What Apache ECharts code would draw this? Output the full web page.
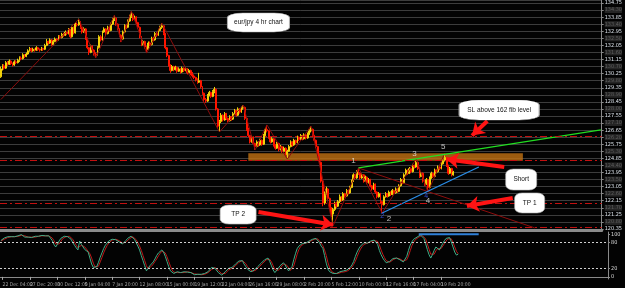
<!DOCTYPE html>
<html><head><meta charset="utf-8">
<script src="https://cdn.jsdelivr.net/npm/echarts@6/dist/echarts.min.js"></script>
<style>html,body{margin:0;padding:0;background:#000}#c{width:625px;height:288px}</style>
</head><body><div id="c"></div>
<script>
const tickLabels = ['22 Dec 04:00','27 Dec 20:00','30 Dec 12:00','5 Jan 04:00','7 Jan 20:00','12 Jan 08:00','15 Jan 00:00','19 Jan 12:00','22 Jan 04:00','26 Jan 16:00','29 Jan 08:00','2 Feb 20:00','5 Feb 12:00','10 Feb 00:00','12 Feb 16:00','17 Feb 04:00','19 Feb 20:00'];

const opens = [130.05,130.55,130.75,130.60,130.95,130.85,131.05,130.90,130.80,131.00,
130.95,131.10,131.25,131.20,131.45,131.35,131.50,131.70,131.85,131.70,
131.80,131.75,131.90,131.80,131.75,131.85,131.80,132.05,132.30,132.20,
132.40,132.10,132.30,132.45,132.40,132.60,132.55,132.75,132.70,132.90,
132.80,133.05,132.60,133.20,132.85,133.40,133.35,133.55,133.20,132.90,
133.10,132.50,131.90,131.60,132.00,131.75,131.50,131.45,131.90,132.60,
132.40,132.90,133.10,132.80,133.20,133.00,133.40,133.70,133.80,133.40,
133.10,132.70,132.45,132.90,133.30,133.20,133.60,133.90,134.05,133.70,
133.85,133.50,133.20,132.60,132.10,132.30,131.95,131.80,132.20,132.10,
132.50,132.40,132.80,132.70,133.00,133.20,133.30,132.80,131.90,131.40,
130.80,130.45,130.70,130.50,130.65,130.40,130.55,130.35,130.60,130.45,
130.55,130.30,130.45,130.25,130.10,130.00,129.85,129.70,129.80,129.40,
129.00,128.60,128.50,128.85,129.05,128.80,129.10,129.25,128.00,126.90,
127.20,127.60,127.30,127.70,127.40,127.25,127.50,127.35,127.70,127.90,
127.60,128.00,127.80,128.05,128.10,127.40,126.70,126.30,125.90,126.20,
125.80,125.60,125.90,125.70,126.00,125.75,126.30,126.70,126.60,126.20,
125.90,126.10,125.70,125.50,125.80,125.40,125.60,125.30,125.50,125.10,
125.30,125.60,125.90,125.70,126.00,125.85,126.20,126.05,126.30,126.10,
126.35,126.15,126.40,126.60,126.70,126.30,126.00,125.60,125.00,124.60,
123.40,122.00,122.60,122.90,122.30,121.70,121.30,121.60,122.00,121.80,
122.10,122.40,122.20,122.60,122.45,122.80,122.65,123.00,123.40,123.80,
123.60,124.00,123.90,123.60,123.80,123.40,123.65,123.30,123.50,123.10,
122.90,123.20,122.70,122.40,122.60,122.10,121.90,122.40,122.60,122.45,
122.70,122.55,122.80,122.65,122.90,122.75,123.10,123.50,123.30,123.80,
124.10,123.90,124.20,124.00,124.40,124.30,124.60,124.20,123.70,123.90,
123.40,123.20,123.50,123.00,123.60,123.90,123.70,124.10,124.00,124.30,
124.20,124.50,124.70,124.90,124.40,123.90,124.20,123.80];

const closes = [130.55,130.75,130.60,130.95,130.85,131.05,130.90,130.80,131.00,130.95,
131.10,131.25,131.20,131.45,131.35,131.50,131.70,131.85,131.70,131.80,
131.75,131.90,131.80,131.75,131.85,131.80,132.05,132.30,132.20,132.40,
132.10,132.30,132.45,132.40,132.60,132.55,132.75,132.70,132.90,132.80,
133.05,132.60,133.20,132.85,133.40,133.35,133.55,133.20,132.90,133.10,
132.50,131.90,131.60,132.00,131.75,131.50,131.45,131.90,132.60,132.40,
132.90,133.10,132.80,133.20,133.00,133.40,133.70,133.80,133.40,133.10,
132.70,132.45,132.90,133.30,133.20,133.60,133.90,134.05,133.70,133.85,
133.50,133.20,132.60,132.10,132.30,131.95,131.80,132.20,132.10,132.50,
132.40,132.80,132.70,133.00,133.20,133.30,132.80,131.90,131.40,130.80,
130.45,130.70,130.50,130.65,130.40,130.55,130.35,130.60,130.45,130.55,
130.30,130.45,130.25,130.10,130.00,129.85,129.70,129.80,129.40,129.00,
128.60,128.50,128.85,129.05,128.80,129.10,129.25,128.00,126.90,127.20,
127.60,127.30,127.70,127.40,127.25,127.50,127.35,127.70,127.90,127.60,
128.00,127.80,128.05,128.10,127.40,126.70,126.30,125.90,126.20,125.80,
125.60,125.90,125.70,126.00,125.75,126.30,126.70,126.60,126.20,125.90,
126.10,125.70,125.50,125.80,125.40,125.60,125.30,125.50,125.10,125.30,
125.60,125.90,125.70,126.00,125.85,126.20,126.05,126.30,126.10,126.35,
126.15,126.40,126.60,126.70,126.30,126.00,125.60,125.00,124.60,123.40,
122.00,122.60,122.90,122.30,121.70,121.30,121.60,122.00,121.80,122.10,
122.40,122.20,122.60,122.45,122.80,122.65,123.00,123.40,123.80,123.60,
124.00,123.90,123.60,123.80,123.40,123.65,123.30,123.50,123.10,122.90,
123.20,122.70,122.40,122.60,122.10,121.90,122.40,122.60,122.45,122.70,
122.55,122.80,122.65,122.90,122.75,123.10,123.50,123.30,123.80,124.10,
123.90,124.20,124.00,124.40,124.30,124.60,124.20,123.70,123.90,123.40,
123.20,123.50,123.00,123.60,123.90,123.70,124.10,124.00,124.30,124.20,
124.50,124.70,124.90,124.40,123.90,124.20,123.80,123.98];

const lows = [129.98,130.45,130.50,130.55,130.75,130.80,130.80,130.70,130.75,130.85,
130.90,131.00,131.10,131.15,131.25,131.30,131.45,131.65,131.60,131.65,
131.65,131.70,131.70,131.65,131.70,131.70,131.75,132.00,132.10,132.15,
132.00,132.05,132.25,132.30,132.35,132.45,132.50,132.60,132.65,132.70,
132.75,132.50,132.55,132.75,132.80,133.25,133.30,133.10,132.80,132.85,
132.40,131.80,131.44,131.55,131.65,131.40,131.25,131.40,131.85,132.30,
132.35,132.85,132.70,132.75,132.90,132.95,133.35,133.60,133.30,133.00,
132.60,132.26,132.40,132.85,133.10,133.15,133.55,133.80,133.60,133.65,
133.40,133.10,132.50,132.00,132.05,131.85,131.56,131.75,132.00,132.05,
132.30,132.35,132.60,132.65,132.95,133.10,132.70,131.80,131.30,130.70,
130.30,130.40,130.40,130.45,130.30,130.35,130.25,130.30,130.35,130.40,
130.20,130.25,130.15,130.00,129.90,129.75,129.60,129.65,129.30,128.90,
128.40,128.38,128.45,128.80,128.70,128.75,129.00,127.90,126.80,126.53,
127.10,127.20,127.25,127.30,127.15,127.20,127.25,127.30,127.65,127.50,
127.55,127.70,127.75,127.95,127.30,126.60,126.20,125.80,125.85,125.70,
125.39,125.55,125.60,125.65,125.65,125.70,126.25,126.50,126.10,125.80,
125.85,125.60,125.40,125.45,125.30,125.35,125.20,125.25,125.00,124.81,
125.25,125.55,125.60,125.65,125.75,125.80,125.95,126.00,126.00,126.05,
126.05,126.10,126.35,126.50,126.20,125.90,125.50,124.90,124.50,123.30,
121.80,121.90,122.50,122.20,121.60,121.10,120.55,121.50,121.70,121.75,
122.00,122.10,122.15,122.35,122.40,122.55,122.60,122.95,123.35,123.50,
123.55,123.80,123.50,123.55,123.30,123.35,123.20,123.25,123.00,122.80,
122.85,122.60,122.30,122.35,122.00,121.37,121.85,122.35,122.35,122.40,
122.45,122.50,122.55,122.60,122.65,122.70,123.05,123.20,123.25,123.75,
123.80,123.85,123.90,123.95,124.20,124.25,124.10,123.60,123.65,123.30,
123.10,123.15,122.71,122.95,123.55,123.60,123.65,123.90,123.95,124.10,
124.15,124.45,124.65,124.30,123.80,123.85,123.70,123.75];

const highs = [130.70,130.85,130.85,131.05,131.05,131.15,131.10,130.95,131.10,131.10,
131.20,131.35,131.35,131.55,131.50,131.60,131.80,131.95,131.90,131.90,
131.85,132.00,131.95,131.85,131.95,131.90,132.15,132.45,132.35,132.50,
132.45,132.40,132.55,132.50,132.70,132.70,132.85,132.85,133.00,132.95,
133.15,133.10,133.30,133.25,133.50,133.50,133.75,133.60,133.25,133.20,
133.15,132.55,131.95,132.10,132.05,131.80,131.60,132.00,132.70,132.70,
133.00,133.20,133.15,133.30,133.25,133.50,133.80,133.98,133.85,133.45,
133.15,132.75,133.00,133.40,133.40,133.70,134.00,134.24,134.10,133.95,
133.90,133.55,133.25,132.65,132.40,132.35,132.00,132.30,132.30,132.60,
132.60,132.90,132.90,133.10,133.30,133.47,133.35,132.85,131.95,131.45,
130.85,130.80,130.75,130.75,130.70,130.65,130.60,130.70,130.65,130.65,
130.60,130.55,130.50,130.35,130.20,130.05,129.95,130.30,129.85,129.45,
129.05,128.70,128.95,129.15,129.10,129.20,129.40,129.30,128.05,127.30,
127.74,127.65,127.80,127.75,127.45,127.60,127.55,127.80,128.00,127.95,
128.10,128.05,128.15,128.25,128.15,127.45,126.80,126.35,126.30,126.25,
125.85,126.00,125.95,126.10,126.05,126.40,126.80,126.98,126.65,126.25,
126.20,126.15,125.75,125.90,125.85,125.70,125.65,125.60,125.55,125.40,
125.70,126.00,125.95,126.10,126.05,126.30,126.25,126.40,126.35,126.45,
126.40,126.50,126.70,126.91,126.75,126.35,126.05,125.65,125.05,124.65,
123.45,122.75,123.05,122.95,122.35,121.75,121.70,122.10,122.10,122.20,
122.55,122.45,122.70,122.65,122.90,122.85,123.10,123.50,123.90,123.85,
124.10,124.24,123.95,123.90,123.85,123.75,123.70,123.60,123.55,123.15,
123.30,123.25,122.75,122.70,122.65,122.15,122.50,122.70,122.65,122.80,
122.75,122.90,122.85,123.00,122.95,123.20,123.60,123.55,123.90,124.20,
124.15,124.30,124.25,124.50,124.45,124.81,124.65,124.25,124.00,123.95,
123.45,123.60,123.55,123.70,124.00,123.95,124.20,124.15,124.40,124.35,
124.60,124.80,125.19,124.95,124.45,124.30,124.25,124.05];

const stochMain = [85,88,91,92,94,95,94,93,94,95,96,97,99,96,93,92,93,94,92,93,
95,96,95,96,97,95,96,97,96,93,85,76,70,76,84,90,92,95,96,94,
96,88,80,74,68,63,84,76,70,64,60,58,44,30,22,18,24,34,46,56,
66,74,78,84,86,88,88,87,85,82,79,77,80,85,90,93,95,94,88,80,
72,63,50,38,26,14,18,26,30,35,42,50,56,60,63,58,48,36,24,14,
10,8,10,12,8,10,9,12,14,11,8,10,7,5,8,6,4,6,5,8,
10,12,16,22,24,20,16,10,6,4,8,12,16,20,18,22,26,30,34,37,
40,38,30,24,18,14,12,12,16,20,24,28,32,36,40,44,44,36,26,16,
10,14,20,26,30,33,28,20,14,12,24,40,54,66,72,76,78,80,79,82,
84,86,88,90,90,86,80,72,67,50,32,18,12,10,8,6,8,10,12,10,
14,12,16,18,22,28,36,48,58,66,72,76,80,78,79,82,84,86,86,86,
76,62,52,44,38,33,33,36,40,43,44,44,42,40,37,35,36,48,62,74,
82,88,91,93,96,98,98,90,78,64,52,44,52,62,70,66,63,70,78,85,
90,93,92,82,70,58,51,53];

const stochSignal = [84,85,88,90,92,94,94,94,94,94,95,96,97,97,96,94,93,93,93,93,
93,95,95,96,96,96,96,96,96,95,91,85,77,74,77,83,89,92,94,95,
95,93,88,81,74,68,72,74,77,70,65,61,54,44,32,23,21,25,35,45,
56,65,73,79,83,86,87,88,87,85,82,79,79,81,85,89,93,94,92,87,
80,72,62,50,38,26,19,19,25,30,36,42,49,55,60,60,56,47,36,25,
16,11,9,10,10,10,9,10,12,12,11,10,8,7,7,6,6,5,5,6,
8,10,13,17,21,22,20,15,11,7,6,8,12,16,18,20,22,26,30,34,
37,38,36,31,24,19,15,13,13,16,20,24,28,32,36,40,43,41,35,26,
17,13,15,20,25,30,30,27,21,15,17,25,39,53,64,71,75,78,79,80,
82,84,86,88,89,89,85,79,73,63,50,33,21,13,10,8,7,8,10,11,
12,12,14,15,19,23,29,37,47,57,65,71,76,78,79,80,82,84,85,86,
83,75,63,53,45,38,35,34,36,40,42,44,43,42,40,37,36,40,49,61,
73,81,87,91,93,96,97,95,89,77,65,53,49,53,61,66,66,66,70,78,
84,89,92,89,81,70,60,54];

const levelPrices = [126.28, 124.75, 122.01, 120.48];
const zigzag = [[0,128.60],[46,133.73],[56,131.25],[67,133.98],[71,132.26],[77,134.24],[86,131.56],[95,133.47],[129,126.53],[143,128.25],[150,125.39],[157,126.98],[169,124.81],[183,126.91],[196,120.55],[211,124.24],[225,121.37],[245,124.81],[252,122.71],[262,125.19]];
const greenLine = [[211,124.24],[354,126.66]];
const blueLine = [[225,121.37],[282,124.30]];
const channelLine = [[211,124.24],[315,120.42]];
const currentPrice = 123.98;

const N = 355;
const cats = Array.from({length:N}, (_, i) => 'b' + i);
const labelAt = {};
tickLabels.forEach((t, k) => { labelAt[1 + 16 * k] = t; });
const timeMarks = tickLabels.map((t, k) => ({name: t, value: [1 + 16 * k, -5]}));
const candles = opens.map((o, i) => [o, closes[i], lows[i], highs[i]]);
const kData = stochMain.map((v, i) => [i, v]);
const dData = stochSignal.map((v, i) => [i, v]);

const chart = echarts.init(document.getElementById('c'), null, {renderer: 'canvas'});
const FONT = 'Liberation Sans, Arial, sans-serif';
const NARROW = "'Liberation Sans Narrow','DejaVu Sans Condensed','Liberation Sans',sans-serif";
const isMajor = v => { const k = (v - 120.35) / 0.45; return Math.abs(k - Math.round(k)) < 0.01 ? Math.round(k) : null; };

chart.setOption({
  backgroundColor: '#030303',
  animation: false,
  textStyle: {fontFamily: FONT},
  grid: [
    {left: 0, right: 17, top: 0, height: 229},
    {left: 0, right: 17, top: 232, height: 47}
  ],
  xAxis: [
    {type: 'category', data: cats, gridIndex: 0, offset: 1.5,
     axisLine: {show: true, lineStyle: {color: '#8a8a8a', width: 3}},
     axisTick: {show: false}, axisLabel: {show: false}, splitLine: {show: false}},
    {type: 'category', data: cats, gridIndex: 1,
     axisLine: {show: true, lineStyle: {color: '#8a8a8a', width: 1}},
     axisTick: {show: true, alignWithLabel: true, length: 3, interval: i => labelAt[i] !== undefined, lineStyle: {color: '#aaa'}},
     axisLabel: {show: false},
     splitLine: {show: false}}
  ],
  yAxis: [
    {type: 'value', gridIndex: 0, position: 'right', min: 120.35, max: 134.94, interval: 0.45,
     axisLine: {show: true, lineStyle: {color: '#8a8a8a'}},
     axisTick: {show: true, length: 2, lineStyle: {color: '#8a8a8a'}},
     splitLine: {show: true, lineStyle: {color: '#3c3c3c', width: 1}},
     axisLabel: {showMaxLabel: false, fontSize: 6, margin: 3, fontFamily: FONT,
       formatter: v => { const k = isMajor(v); if (k === null) return ''; return k % 2 === 0 ? '{b|' + v.toFixed(2) + '}' : '{d|' + v.toFixed(2) + '}'; },
       rich: {b: {color: '#dfe6ee', fontSize: 5.5, fontFamily: NARROW}, d: {color: '#5e5e5e', fontSize: 5.5, backgroundColor: '#252525', fontFamily: NARROW}}}},
    {type: 'value', gridIndex: 1, position: 'right', min: -5, max: 105,
     axisLine: {show: true, lineStyle: {color: '#8a8a8a'}},
     axisTick: {show: true, length: 2, customValues: [0, 20, 80, 100]},
     splitLine: {show: false},
     axisLabel: {customValues: [0, 20, 80, 100], fontSize: 5.5, margin: 3, color: '#dcdcdc', fontFamily: NARROW}}
  ],
  series: [
    {type: 'candlestick', name: 'EURJPY', xAxisIndex: 0, yAxisIndex: 0, data: candles, barWidth: 1.4,
     itemStyle: {color: '#f2d20a', color0: '#ff1500', borderColor: '#f2d20a', borderColor0: '#ff1500', borderWidth: 1},
     markArea: {silent: true, itemStyle: {color: 'rgba(190,112,18,0.82)'},
       data: [[{coord: [146, 125.17]}, {coord: [308, 124.70]}]]},
     markLine: {silent: true, symbol: 'none', animation: false,
       data: levelPrices.map(p => ({yAxis: p, lineStyle: {color: '#c41010', width: 1.2, type: [7, 3, 2, 3]}, label: {show: false}}))
         .concat([{yAxis: currentPrice, lineStyle: {opacity: 0}, label: {show: true, position: 'end', distance: 3, formatter: '123.98', backgroundColor: '#ffffff', color: '#000', fontSize: 5.5, padding: [1, 1], fontFamily: NARROW}}])}
    },
    {type: 'line', name: 'zigzag', xAxisIndex: 0, yAxisIndex: 0, data: zigzag, symbol: 'none',
     lineStyle: {color: '#8e0d0d', width: 1}, z: 3,
     markLine: {silent: true, symbol: ['none', 'arrow'], symbolSize: 12,
       lineStyle: {color: '#ff1414', width: 4, type: 'solid'}, label: {show: false},
       data: [
         [{coord: [287, 127.23]}, {coord: [278, 126.30]}],
         [{coord: [297, 124.30]}, {coord: [263, 124.80]}],
         [{coord: [302, 122.33]}, {coord: [275, 121.82]}],
         [{coord: [152, 121.43]}, {coord: [196, 120.62]}]
       ]}
    },
    {type: 'line', name: 'channel', xAxisIndex: 0, yAxisIndex: 0, data: channelLine, symbol: 'none', lineStyle: {color: '#8e0d0d', width: 1}, z: 3},
    {type: 'line', name: 'upper', xAxisIndex: 0, yAxisIndex: 0, data: greenLine, symbol: 'none', lineStyle: {color: '#22dd22', width: 1.3}, z: 4},
    {type: 'line', name: 'lower', xAxisIndex: 0, yAxisIndex: 0, data: blueLine, symbol: 'none', lineStyle: {color: '#2a8ee8', width: 1.3}, z: 4},
    {type: 'scatter', name: 'notes', xAxisIndex: 0, yAxisIndex: 0, symbol: 'roundRect', z: 10,
     itemStyle: {color: '#ffffff', opacity: 1, borderColor: '#b0b0b0', borderWidth: 0.6},
     emphasis: {disabled: true},
     label: {show: true, position: 'inside', color: '#111', fontSize: 6.5, formatter: '{b}', fontFamily: FONT},
     data: [
       {name: 'eur/jpy 4 hr chart', value: [152, 133.51], symbolSize: [62, 19]},
       {name: 'SL above 162 fib level', value: [294, 127.93], symbolSize: [80, 20]},
       {name: 'Short', value: [307, 123.50], symbolSize: [31, 21]},
       {name: 'TP 1', value: [312, 122.01], symbolSize: [30, 20]},
       {name: 'TP 2', value: [140, 121.27], symbolSize: [36, 19]}
     ]},
    {type: 'scatter', name: 'waves', xAxisIndex: 0, yAxisIndex: 0, symbolSize: 0, z: 11,
     label: {show: true, position: 'inside', color: '#e8e8e8', fontSize: 8, formatter: '{b}', fontFamily: FONT},
     data: [
       {name: '1', value: [208, 124.68]},
       {name: '2', value: [229, 120.99]},
       {name: '3', value: [244, 125.13]},
       {name: '4', value: [252, 122.13]},
       {name: '5', value: [261, 125.57]},
       {name: '2', value: [225, 121.17], label: {color: '#3b5cff', fontSize: 7}},
       {name: '4', value: [251, 122.45], label: {color: '#3b5cff', fontSize: 7}}
     ]},
    {type: 'line', name: 'signal', xAxisIndex: 1, yAxisIndex: 1, data: dData, symbol: 'none',
     lineStyle: {color: '#c01818', width: 1}, z: 3,
     markLine: {silent: true, symbol: 'none', label: {show: false},
       lineStyle: {color: '#d0d0d0', width: 1, type: [2, 2]},
       data: [{yAxis: 80}, {yAxis: 20}]}},
    {type: 'line', name: 'main', xAxisIndex: 1, yAxisIndex: 1, data: kData, symbol: 'none',
     lineStyle: {color: '#3fae88', width: 1}, z: 4},
    {type: 'line', name: 'osc-line', xAxisIndex: 1, yAxisIndex: 1, data: [[244, 99.5], [279, 99.5]], symbol: 'none',
     lineStyle: {color: '#2f80d8', width: 2}, z: 5},
    {type: 'scatter', name: 'time-labels', xAxisIndex: 1, yAxisIndex: 1, symbolSize: 0, clip: false, silent: true, z: 12,
     label: {show: true, position: [0, 3], align: 'left', verticalAlign: 'top', formatter: '{b}', color: '#c8c8c8', fontSize: 5, fontFamily: NARROW},
     labelLayout: {hideOverlap: false},
     data: timeMarks}
  ]
});
</script>
</body></html>
